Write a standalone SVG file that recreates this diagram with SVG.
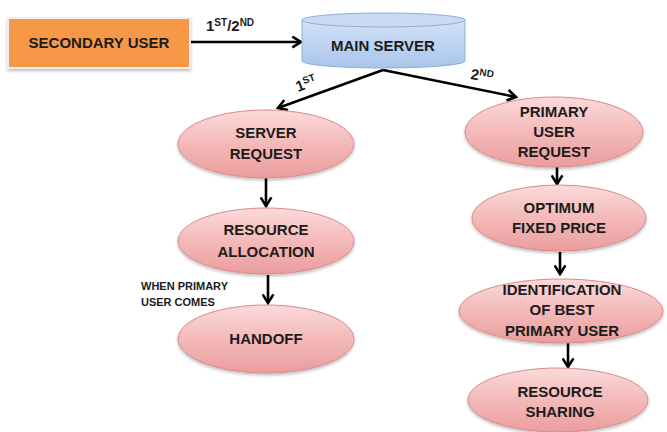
<svg xmlns="http://www.w3.org/2000/svg" width="667" height="432" viewBox="0 0 667 432">
  <defs>
    <linearGradient id="pinkFill" x1="0" y1="0" x2="0" y2="1">
      <stop offset="0" stop-color="#fbdada"/>
      <stop offset="0.5" stop-color="#f4b9b9"/>
      <stop offset="1" stop-color="#eb9d9d"/>
    </linearGradient>
    <linearGradient id="blueFill" x1="0" y1="0" x2="0" y2="1">
      <stop offset="0" stop-color="#d3e2f6"/>
      <stop offset="1" stop-color="#a9c4ec"/>
    </linearGradient>
    <marker id="arrow" viewBox="0 0 12 12" refX="10" refY="6" markerWidth="13" markerHeight="13" markerUnits="userSpaceOnUse" orient="auto">
      <path d="M2,1 L10,6 L2,11" fill="none" stroke="#000" stroke-width="2.4" stroke-linejoin="miter"/>
    </marker>
    <filter id="softShadow" x="-10%" y="-10%" width="120%" height="130%">
      <feDropShadow dx="0" dy="2" stdDeviation="1.5" flood-color="#000" flood-opacity="0.25"/>
    </filter>
  </defs>
  <style>
    .lbl { font-family: "Liberation Sans", Arial, sans-serif; font-weight: bold; font-size: 15px; fill: #1c1c1c; text-anchor: middle; }
    .small { font-family: "Liberation Sans", Arial, sans-serif; font-weight: bold; font-size: 11px; fill: #1c1c1c; }
    .edge { font-family: "Liberation Sans", Arial, sans-serif; font-weight: bold; font-size: 15px; fill: #1c1c1c; }
    .sup { font-size: 10px; }
    .oval { fill: url(#pinkFill); stroke: #d98a8a; stroke-width: 1; filter: url(#softShadow); }
    .conn { fill: none; stroke: #000; stroke-width: 2.6; marker-end: url(#arrow); }
  </style>

  <rect width="667" height="432" fill="#ffffff"/>

  <!-- connectors -->
  <g id="connectors">
    <line class="conn" x1="190" y1="42" x2="301" y2="42"/>
    <line class="conn" x1="383" y1="70" x2="278" y2="108"/>
    <line class="conn" x1="383" y1="70" x2="516" y2="97"/>
    <line class="conn" x1="266" y1="178" x2="266" y2="206"/>
    <line class="conn" x1="268" y1="275" x2="268" y2="303"/>
    <line class="conn" x1="557" y1="167" x2="557" y2="184"/>
    <line class="conn" x1="560" y1="252" x2="560" y2="274"/>
    <line class="conn" x1="568" y1="343" x2="568" y2="367"/>

    <text class="edge" x="206" y="31">1<tspan class="sup" dy="-5">ST</tspan><tspan dy="5">/2</tspan><tspan class="sup" dy="-5">ND</tspan></text>
    <text class="edge" transform="translate(298,92) rotate(-21)">1<tspan class="sup" dy="-5">ST</tspan></text>
    <text class="edge" transform="translate(470,79) rotate(9)">2<tspan class="sup" dy="-5">ND</tspan></text>
    <text class="small" x="141" y="290">WHEN PRIMARY</text>
    <text class="small" x="141" y="306">USER COMES</text>
  </g>

  <g id="secondary-user">
    <rect x="8" y="18" width="182" height="50" fill="#f7984a" stroke="#f0f0f0" stroke-width="2" filter="url(#softShadow)"/>
    <text class="lbl" x="99" y="48">SECONDARY USER</text>
  </g>

  <g id="main-server">
    <path d="M302,20 L302,61 A81.5,7 0 0 0 465,61 L465,20 Z" fill="url(#blueFill)" stroke="#8eaedb" stroke-width="1"/>
    <ellipse cx="383.5" cy="20" rx="81.5" ry="7" fill="#c9dbf3" stroke="#8eaedb" stroke-width="1"/>
    <text class="lbl" x="383" y="51">MAIN SERVER</text>
  </g>

  <g id="server-request">
    <ellipse class="oval" cx="266" cy="144" rx="88" ry="34"/>
    <text class="lbl" x="266" y="138">SERVER</text>
    <text class="lbl" x="266" y="159">REQUEST</text>
  </g>

  <g id="resource-allocation">
    <ellipse class="oval" cx="266" cy="241" rx="88" ry="33"/>
    <text class="lbl" x="266" y="235">RESOURCE</text>
    <text class="lbl" x="266" y="257">ALLOCATION</text>
  </g>

  <g id="handoff">
    <ellipse class="oval" cx="266" cy="339" rx="88" ry="34"/>
    <text class="lbl" x="266" y="344">HANDOFF</text>
  </g>

  <g id="primary-user-request">
    <ellipse class="oval" cx="554" cy="132" rx="89" ry="35"/>
    <text class="lbl" x="554" y="117">PRIMARY</text>
    <text class="lbl" x="554" y="137">USER</text>
    <text class="lbl" x="554" y="157">REQUEST</text>
  </g>

  <g id="optimum-fixed-price">
    <ellipse class="oval" cx="559" cy="218" rx="87" ry="33"/>
    <text class="lbl" x="559" y="213">OPTIMUM</text>
    <text class="lbl" x="559" y="233">FIXED PRICE</text>
  </g>

  <g id="identification">
    <ellipse class="oval" cx="561" cy="311" rx="102" ry="32"/>
    <text class="lbl" x="562" y="295">IDENTIFICATION</text>
    <text class="lbl" x="562" y="315">OF BEST</text>
    <text class="lbl" x="562" y="336">PRIMARY USER</text>
  </g>

  <g id="resource-sharing">
    <ellipse class="oval" cx="558" cy="400" rx="90" ry="32"/>
    <text class="lbl" x="560" y="397">RESOURCE</text>
    <text class="lbl" x="560" y="417">SHARING</text>
  </g>
</svg>
